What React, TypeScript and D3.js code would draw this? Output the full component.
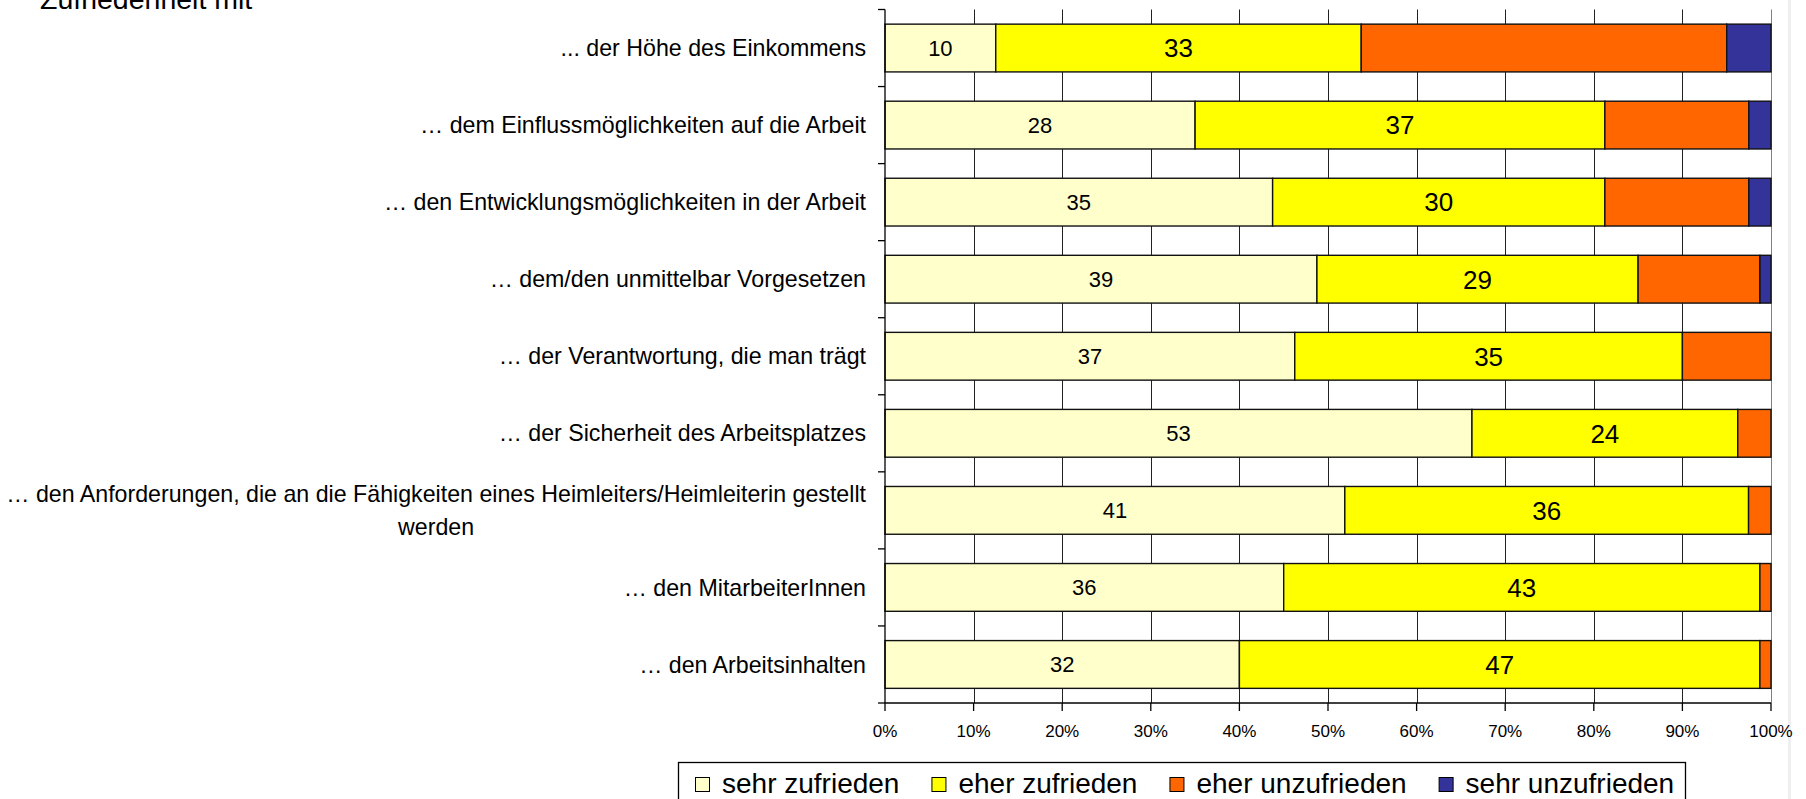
import { useEffect, useRef } from 'react';
import * as d3 from 'd3';

const categories = [
  '... der Höhe des Einkommens',
  '… dem Einflussmöglichkeiten auf die Arbeit',
  '… den Entwicklungsmöglichkeiten in der Arbeit',
  '… dem/den unmittelbar Vorgesetzen',
  '… der Verantwortung, die man trägt',
  '… der Sicherheit des Arbeitsplatzes',
  '… den Anforderungen, die an die Fähigkeiten eines Heimleiters/Heimleiterin gestellt\nwerden',
  '… den MitarbeiterInnen',
  '… den Arbeitsinhalten',
];

const seriesNames = ['sehr zufrieden', 'eher zufrieden', 'eher unzufrieden', 'sehr unzufrieden'];
const sehrZufrieden = [10, 28, 35, 39, 37, 53, 41, 36, 32];
const eherZufrieden = [33, 37, 30, 29, 35, 24, 36, 43, 47];
const eherUnzufrieden = [33, 13, 13, 11, 8, 3, 2, 1, 1];
const sehrUnzufrieden = [4, 2, 2, 1, 0, 0, 0, 0, 0];
const seriesColors = ['#ffffcc', '#ffff00', '#ff6600', '#333399'];
const xTicks = [0, 0.1, 0.2, 0.3, 0.4, 0.5, 0.6, 0.7, 0.8, 0.9, 1];

const FONT = '"Liberation Sans", Arial, sans-serif';

export default function App() {
  const svgRef = useRef<SVGSVGElement>(null);

  useEffect(() => {
    if (!svgRef.current) return;
    const svg = d3.select(svgRef.current);
    svg.selectAll('*').remove();

    const width = 1806;
    const height = 799;
    const left = 885;
    const right = 1771;
    const top = 9.5;
    const bottom = 703;

    const rows = categories.map((c, i) => ({
      cat: c,
      [seriesNames[0]]: sehrZufrieden[i],
      [seriesNames[1]]: eherZufrieden[i],
      [seriesNames[2]]: eherUnzufrieden[i],
      [seriesNames[3]]: sehrUnzufrieden[i],
    }));
    const raw = [sehrZufrieden, eherZufrieden, eherUnzufrieden, sehrUnzufrieden];

    const stacked = d3
      .stack<any>()
      .keys(seriesNames)
      .offset(d3.stackOffsetExpand)(rows);

    const x = d3.scaleLinear().domain([0, 1]).range([left, right]);
    const y = d3.scaleBand().domain(categories).range([top, bottom]).paddingInner(0.38).paddingOuter(0.19);
    const step = y.step();

    svg.append('rect').attr('width', width).attr('height', height).attr('fill', '#fff');
    svg.append('rect').attr('x', 1788).attr('y', 0).attr('width', 3).attr('height', height).attr('fill', '#efefef');

    // title, cut off at the top as in the source
    svg
      .append('text')
      .attr('x', 40)
      .attr('y', 9)
      .attr('font-family', FONT)
      .attr('font-size', 28.5)
      .text('Zufriedenheit mit');

    // gridlines
    svg
      .append('g')
      .selectAll('line')
      .data(xTicks.slice(1))
      .join('line')
      .attr('x1', (d) => Math.round(x(d)) + 0.5)
      .attr('x2', (d) => Math.round(x(d)) + 0.5)
      .attr('y1', top)
      .attr('y2', bottom)
      .attr('stroke', (d) => (d === 1 ? '#808080' : '#222'))
      .attr('stroke-width', 1);

    // bars
    const barG = svg.append('g');
    stacked.forEach((s, si) => {
      barG
        .append('g')
        .selectAll('rect')
        .data(s.filter((d) => d[1] - d[0] > 0))
        .join('rect')
        .attr('x', (d) => x(d[0]))
        .attr('y', (d) => y(d.data.cat) ?? 0)
        .attr('width', (d) => x(d[1]) - x(d[0]))
        .attr('height', y.bandwidth())
        .attr('fill', seriesColors[si])
        .attr('stroke', '#111')
        .attr('stroke-width', 1.4);
    });

    // value labels for the two "zufrieden" series
    [0, 1].forEach((si) => {
      svg
        .append('g')
        .selectAll('text')
        .data(stacked[si])
        .join('text')
        .attr('x', (d) => (x(d[0]) + x(d[1])) / 2)
        .attr('y', (d) => (y(d.data.cat) ?? 0) + y.bandwidth() / 2)
        .attr('dy', '0.36em')
        .attr('text-anchor', 'middle')
        .attr('font-family', FONT)
        .attr('font-size', si === 0 ? 22 : 26)
        .text((d, i) => raw[si][i]);
    });

    // left axis
    const axisG = svg.append('g').attr('stroke', '#000').attr('stroke-width', 1.3);
    axisG.append('line').attr('x1', left).attr('x2', left).attr('y1', top).attr('y2', bottom);
    axisG
      .selectAll('line.ct')
      .data(d3.range(categories.length + 1))
      .join('line')
      .attr('class', 'ct')
      .attr('x1', left - 7)
      .attr('x2', left)
      .attr('y1', (i) => top + i * step)
      .attr('y2', (i) => top + i * step);

    // bottom axis
    axisG.append('line').attr('x1', left).attr('x2', right).attr('y1', bottom).attr('y2', bottom);
    axisG
      .selectAll('line.xt')
      .data(xTicks)
      .join('line')
      .attr('class', 'xt')
      .attr('x1', (d) => x(d))
      .attr('x2', (d) => x(d))
      .attr('y1', bottom)
      .attr('y2', bottom + 8);

    svg
      .append('g')
      .selectAll('text')
      .data(xTicks)
      .join('text')
      .attr('x', (d) => x(d))
      .attr('y', 737)
      .attr('text-anchor', 'middle')
      .attr('font-family', FONT)
      .attr('font-size', 17)
      .text((d) => d3.format('.0%')(d));

    // category labels (multi-line ones centred on their widest line)
    const labelRight = 866;
    const lineGap = 32.6;
    categories.forEach((c) => {
      const lines = c.split('\n');
      const cy = (y(c) ?? 0) + y.bandwidth() / 2;
      const t = svg
        .append('text')
        .attr('font-family', FONT)
        .attr('font-size', 23.2)
        .attr('fill', '#000');
      const spans = lines.map((ln, li) =>
        t
          .append('tspan')
          .attr('y', cy + (li - (lines.length - 1) / 2) * lineGap)
          .attr('dy', '0.35em')
          .text(ln),
      );
      if (lines.length === 1) {
        t.attr('text-anchor', 'end');
        spans[0].attr('x', labelRight);
      } else {
        const maxW = Math.max(...spans.map((s) => (s.node() as SVGTSpanElement).getComputedTextLength()));
        t.attr('text-anchor', 'middle');
        spans.forEach((s) => s.attr('x', labelRight - maxW / 2));
      }
    });

    // legend
    const legG = svg.append('g');
    legG
      .append('rect')
      .attr('x', 678.5)
      .attr('y', 762.5)
      .attr('width', 1007)
      .attr('height', 60)
      .attr('fill', '#fff')
      .attr('stroke', '#000')
      .attr('stroke-width', 1.3);
    let lx = 695;
    seriesNames.forEach((name, i) => {
      legG
        .append('rect')
        .attr('x', lx + 0.5)
        .attr('y', 777.5)
        .attr('width', 14)
        .attr('height', 14)
        .attr('fill', seriesColors[i])
        .attr('stroke', '#000')
        .attr('stroke-width', 1);
      const txt = legG
        .append('text')
        .attr('x', lx + 27)
        .attr('y', 793)
        .attr('font-family', FONT)
        .attr('font-size', 28)
        .text(name);
      const w = (txt.node() as SVGTextElement).getComputedTextLength();
      lx = lx + 27 + w + 32;
    });
  }, []);

  return (
    <svg
      ref={svgRef}
      width={1806}
      height={799}
      style={{ position: 'absolute', left: 0, top: 0, display: 'block' }}
    />
  );
}
